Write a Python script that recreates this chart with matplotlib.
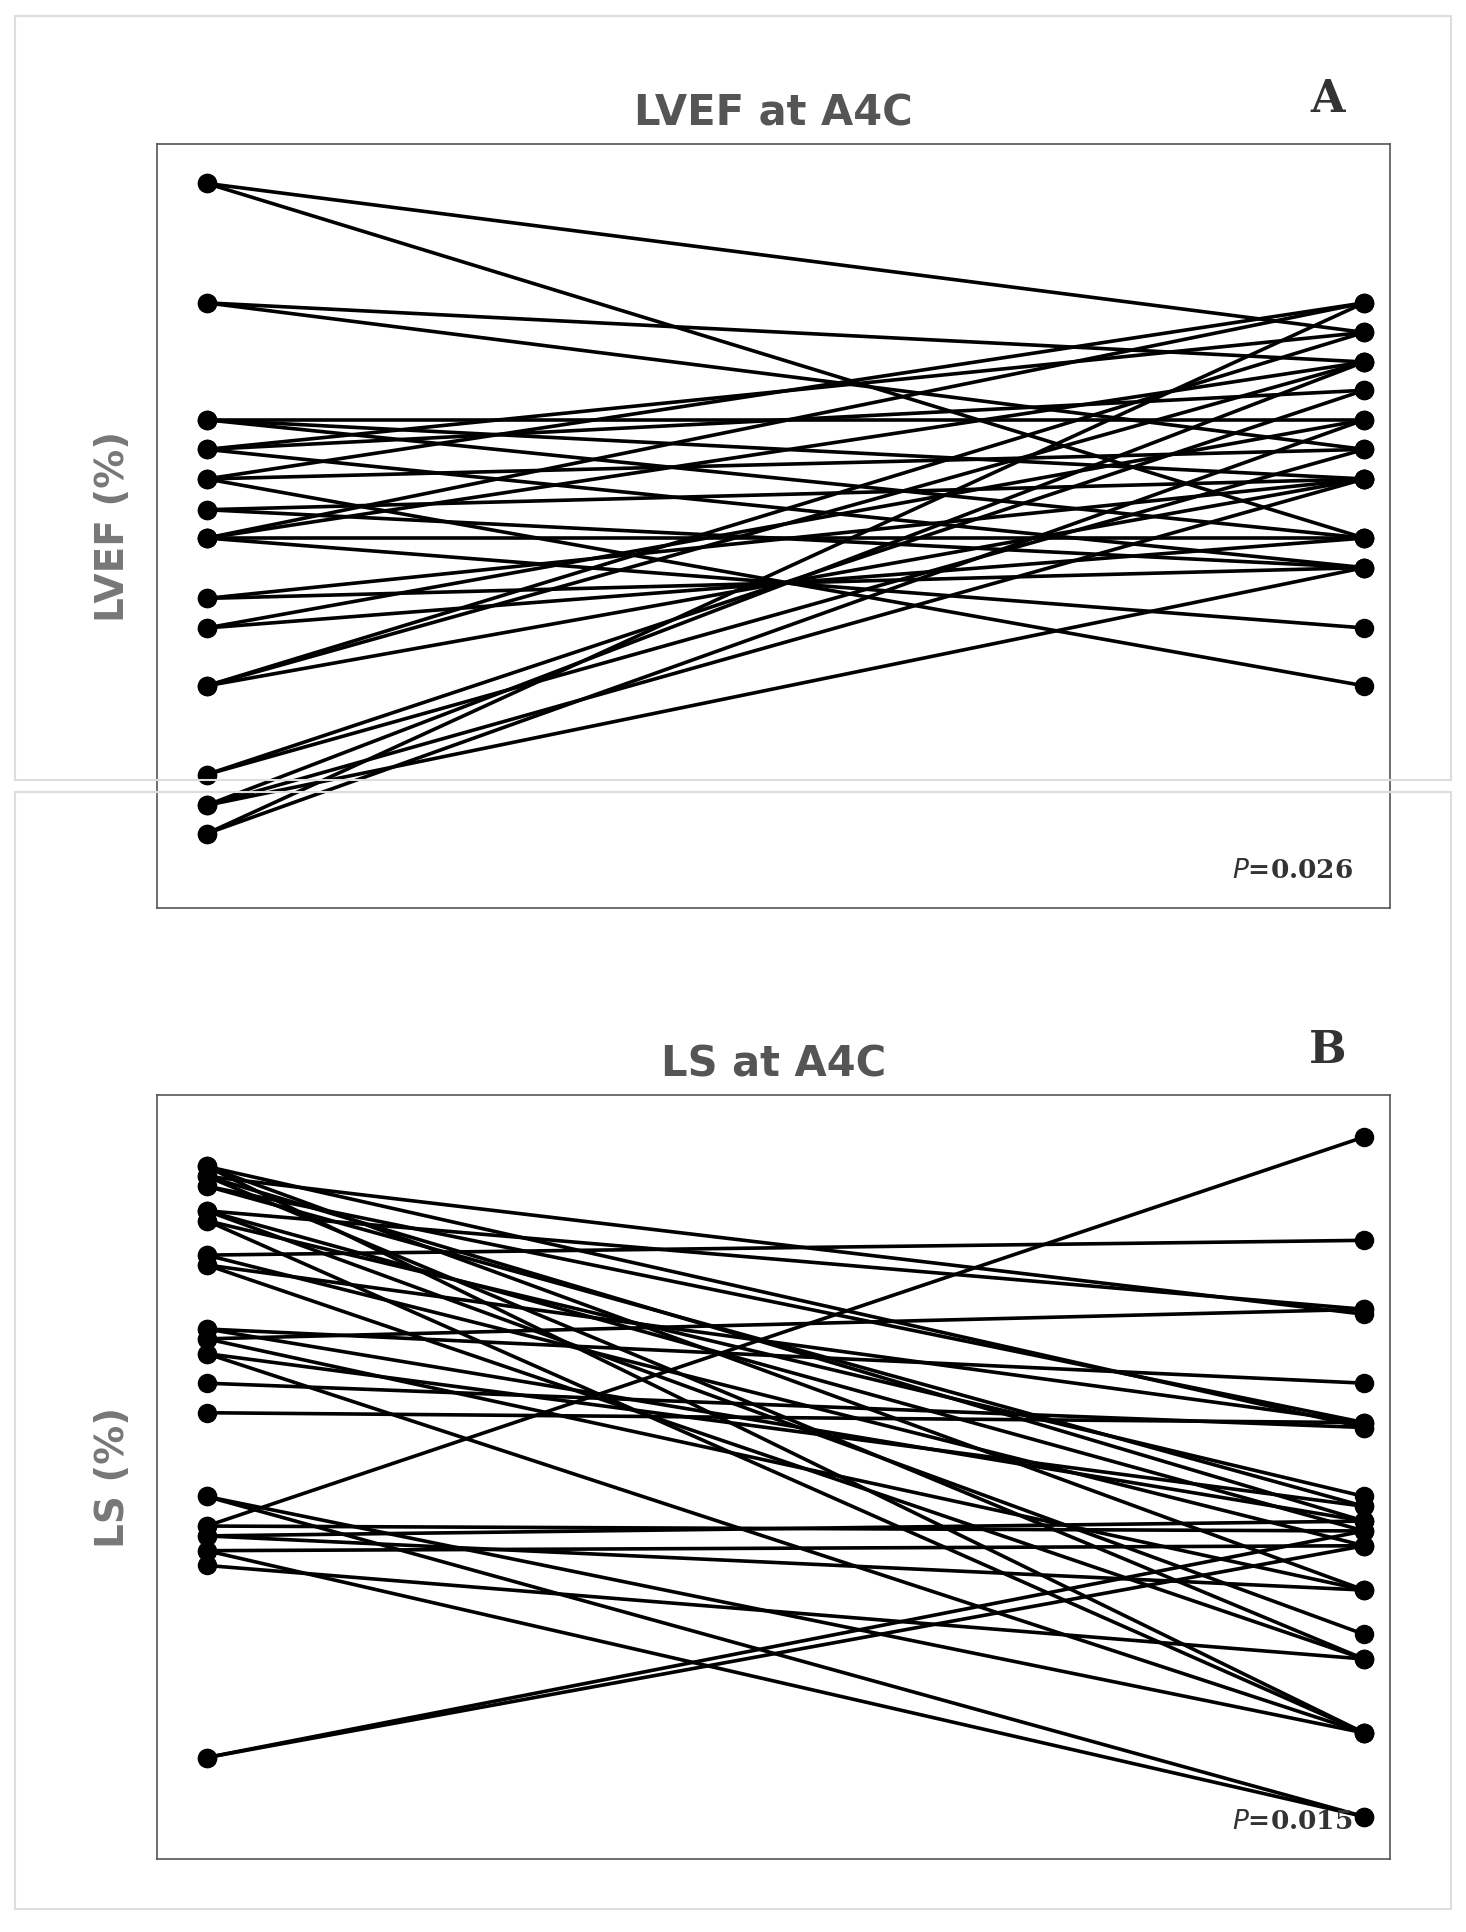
import matplotlib
matplotlib.use('Agg')
import matplotlib.pyplot as plt
from matplotlib.patches import Rectangle

# --- DATA (pre -> post pairs) ---
lvef_pre = [65.0, 65.0, 55.3, 55.3, 45.8, 45.8, 45.8, 43.4, 43.4, 43.4, 41.0, 41.0, 41.0,
            38.5, 38.5, 36.2, 36.2, 36.2, 36.2, 31.3, 31.3, 28.9, 28.9, 24.2, 24.2, 24.2,
            17.0, 17.0, 14.5, 14.5, 14.5, 12.2, 12.2]
lvef_post = [52.9, 36.2, 50.5, 43.4, 41.0, 45.8, 36.2, 52.9, 33.8, 48.2, 55.3, 43.4, 24.2,
             41.0, 33.8, 55.3, 36.2, 28.9, 50.5, 41.0, 33.8, 45.8, 36.2, 52.9, 50.5, 41.0,
             48.2, 43.4, 50.5, 41.0, 33.8, 55.3, 45.8]

ls_pre = [16.3, 16.3, 16.3, 16.1, 16.1, 16.1, 15.9, 15.9, 15.4, 15.4, 15.4, 15.2, 15.2,
          14.5, 14.5, 14.3, 14.3, 13.0, 13.0, 12.8, 12.8, 12.5, 12.5, 11.9, 11.3,
          9.6, 9.6, 9.0, 9.0, 8.8, 8.8, 8.5, 8.5, 8.2, 4.3, 4.3]
ls_post = [11.0, 7.7, 4.8, 13.3, 9.1, 6.3, 11.1, 9.4, 13.4, 6.8, 8.9, 9.6, 4.8,
           14.8, 8.6, 11.1, 6.3, 11.9, 9.1, 13.4, 7.7, 9.4, 4.8, 11.0, 11.1,
           3.1, 4.8, 16.9, 8.9, 9.1, 7.7, 8.6, 3.1, 6.3, 8.9, 8.6]

TITLE_GRAY = '#555555'
W, H = 1466, 1933
fig = plt.figure(figsize=(W / 100, H / 100), dpi=100)

# light outer frames
for y0, h in [(0.596, 0.395), (0.012, 0.578)]:
    fig.add_artist(Rectangle((0.01, y0), 0.98, h, transform=fig.transFigure,
                             fill=False, ec='#dddddd', lw=1.5))


def panel(rect, pre, post, ylim, title, letter, ylabel, ptext):
    ax = fig.add_axes(rect)
    for a, b in zip(pre, post):
        ax.plot([0, 1], [a, b], color='black', lw=2.6, marker='o', ms=13,
                solid_capstyle='round')
    ax.set_xlim(-0.043, 1.022)
    ax.set_ylim(*ylim)
    ax.set_xticks([]); ax.set_yticks([])
    for s in ax.spines.values():
        s.set_color('#555555'); s.set_linewidth(1.2)
    ax.set_title(title, color=TITLE_GRAY, fontsize=30, fontweight='bold', pad=14)
    ax.set_ylabel(ylabel, color='#777777', fontsize=28, fontweight='bold', labelpad=18)
    ax.text(0.95, 1.06, letter, transform=ax.transAxes, ha='center', va='center',
            fontsize=32, fontweight='bold', family='DejaVu Serif', color='#333333')
    ax.text(0.97, 0.05, ptext, transform=ax.transAxes, ha='right', va='center',
            fontsize=19, fontweight='bold', family='DejaVu Serif', color='#333333')
    return ax


panel([0.107, 0.530, 0.841, 0.395], lvef_pre, lvef_post, (6.2, 68.2),
      'LVEF at A4C', 'A', 'LVEF (%)', r'$\bf{\it{P}}$=0.026')
panel([0.107, 0.038, 0.841, 0.395], ls_pre, ls_post, (2.25, 17.75),
      'LS at A4C', 'B', 'LS (%)', r'$\bf{\it{P}}$=0.015')

fig.savefig('out.png', dpi=100)
